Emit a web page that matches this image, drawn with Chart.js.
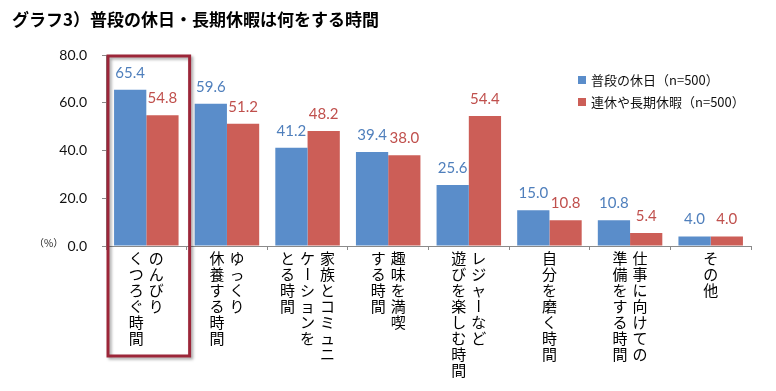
<!DOCTYPE html>
<html><head><meta charset="utf-8">
<script src="https://cdn.jsdelivr.net/npm/chart.js@4"></script>
<style>html,body{margin:0;padding:0;background:#fff}#wrap{width:776px;height:391px;position:relative}</style>
</head><body><div id="wrap"><canvas id="c" width="776" height="391"></canvas></div>
<script>
const categories = ['のんびり\nくつろぐ時間','ゆっくり\n休養する時間','家族とコミュニ\nケーションを\nとる時間','趣味を満喫\nする時間','レジャーなど\n遊びを楽しむ時間','自分を磨く時間','仕事に向けての\n準備をする時間','その他'];
const seriesNames = ['普段の休日（n=500）','連休や長期休暇（n=500）'];
const regularHoliday = [65.4,59.6,41.2,39.4,25.6,15.0,10.8,4.0];
const longHoliday = [54.8,51.2,48.2,38.0,54.4,10.8,5.4,4.0];
const yTicks = [0,20,40,60,80];
const titleText = 'グラフ3）普段の休日・長期休暇は何をする時間';
const unitLabel = '（%）';
const highlightIndex = 0;

const barColors = ['#5A8DCA','#CC5E57'];
const labelColors = ['#4F7FBC','#C0504D'];
const CJK = '"Noto Sans CJK JP", "Noto Sans", sans-serif';
const NUM = 'Lato, "Noto Sans", sans-serif';

const decor = {
  id: 'decor',
  afterDatasetsDraw(chart) {
    const ctx = chart.ctx;
    const xs = chart.scales.x, ys = chart.scales.y;
    // value labels
    ctx.save();
    ctx.font = '15px ' + NUM;
    ctx.textAlign = 'center';
    ctx.textBaseline = 'alphabetic';
    chart.data.datasets.forEach((ds, di) => {
      const meta = chart.getDatasetMeta(di);
      ctx.fillStyle = labelColors[di];
      meta.data.forEach((el, i) => {
        ctx.fillText(ds.data[i].toFixed(1), el.x, el.y - 12);
      });
    });
    ctx.restore();
  },
  afterDraw(chart) {
    const ctx = chart.ctx;
    const xs = chart.scales.x, ys = chart.scales.y;
    const area = chart.chartArea;
    // title
    ctx.save();
    ctx.font = 'bold 17px ' + CJK;
    ctx.fillStyle = '#000';
    ctx.textAlign = 'left';
    ctx.textBaseline = 'middle';
    ctx.fillText(titleText, 12, 20);
    ctx.restore();
    // unit label
    ctx.save();
    ctx.font = '10px ' + CJK;
    ctx.fillStyle = '#222';
    ctx.textAlign = 'left';
    ctx.textBaseline = 'middle';
    ctx.fillText(unitLabel, 34, ys.getPixelForValue(0) - 3);
    ctx.restore();
    // vertical category labels
    const step = 16, colGap = 20;
    ctx.save();
    ctx.font = '15px ' + CJK;
    ctx.fillStyle = '#000';
    ctx.textAlign = 'center';
    ctx.textBaseline = 'middle';
    chart.data.labels.forEach((lab, i) => {
      const cx = xs.getPixelForValue(i);
      const cols = lab.split('\n');
      const n = cols.length;
      cols.forEach((col, j) => {
        const x = cx + ((n - 1) / 2 - j) * colGap;
        [...col].forEach((ch, k) => {
          const y = area.bottom + 12 + k * step;
          if (ch === 'ー') {
            ctx.save();
            ctx.translate(x, y);
            ctx.rotate(Math.PI / 2);
            ctx.fillText(ch, 0, 0);
            ctx.restore();
          } else {
            ctx.fillText(ch, x, y);
          }
        });
      });
    });
    ctx.restore();
    // legend
    ctx.save();
    ctx.font = '13px ' + CJK;
    ctx.textAlign = 'left';
    ctx.textBaseline = 'middle';
    chart.data.datasets.forEach((ds, di) => {
      const ly = 80 + di * 22;
      ctx.fillStyle = ds.backgroundColor;
      ctx.fillRect(578, ly - 4, 8, 8);
      ctx.fillStyle = '#111';
      ctx.fillText(ds.label, 591, ly);
    });
    ctx.restore();
    // highlight box
    const cw = (xs.right - xs.left) / chart.data.labels.length;
    const hx = xs.getPixelForValue(highlightIndex);
    const left = hx - cw / 2 + 2, right = hx + cw / 2 + 3;
    const top = ys.getPixelForValue(80) + 1, bottom = area.bottom + 110;
    ctx.save();
    ctx.shadowColor = 'rgba(0,0,0,0.35)';
    ctx.shadowBlur = 3;
    ctx.shadowOffsetX = 2;
    ctx.shadowOffsetY = 2;
    ctx.strokeStyle = '#9C2639';
    ctx.lineWidth = 3;
    ctx.strokeRect(left, top, right - left, bottom - top);
    ctx.restore();
  }
};

new Chart(document.getElementById('c'), {
  type: 'bar',
  data: {
    labels: categories,
    datasets: [
      { label: seriesNames[0], data: regularHoliday, backgroundColor: barColors[0], categoryPercentage: 0.8, barPercentage: 1.0 },
      { label: seriesNames[1], data: longHoliday, backgroundColor: barColors[1], categoryPercentage: 0.8, barPercentage: 1.0 }
    ]
  },
  options: {
    responsive: false,
    animation: false,
    devicePixelRatio: 1,
    layout: { padding: { top: 55, right: 25, left: 0, bottom: 0 } },
    plugins: { legend: { display: false }, title: { display: false }, tooltip: { enabled: false } },
    scales: {
      x: {
        type: 'category',
        offset: true,
        grid: { offset: true, drawOnChartArea: false, drawTicks: true, tickLength: 4, color: '#8a8a8a' },
        border: { display: true, color: '#8a8a8a', width: 1 },
        ticks: { callback: () => '', font: { size: 1 } },
        afterFit: (s) => { s.height = 145; }
      },
      y: {
        min: 0, max: 80,
        afterBuildTicks: (s) => { s.ticks = yTicks.map(v => ({ value: v })); },
        grid: { drawOnChartArea: false, drawTicks: true, tickLength: 4, color: '#8a8a8a' },
        border: { display: true, color: '#8a8a8a', width: 1 },
        ticks: { callback: (v) => Number(v).toFixed(1), font: { family: NUM, size: 14 }, color: '#111', padding: 15 },
        afterFit: (s) => { s.width = 106; }
      }
    }
  },
  plugins: [decor]
});
</script></body></html>
